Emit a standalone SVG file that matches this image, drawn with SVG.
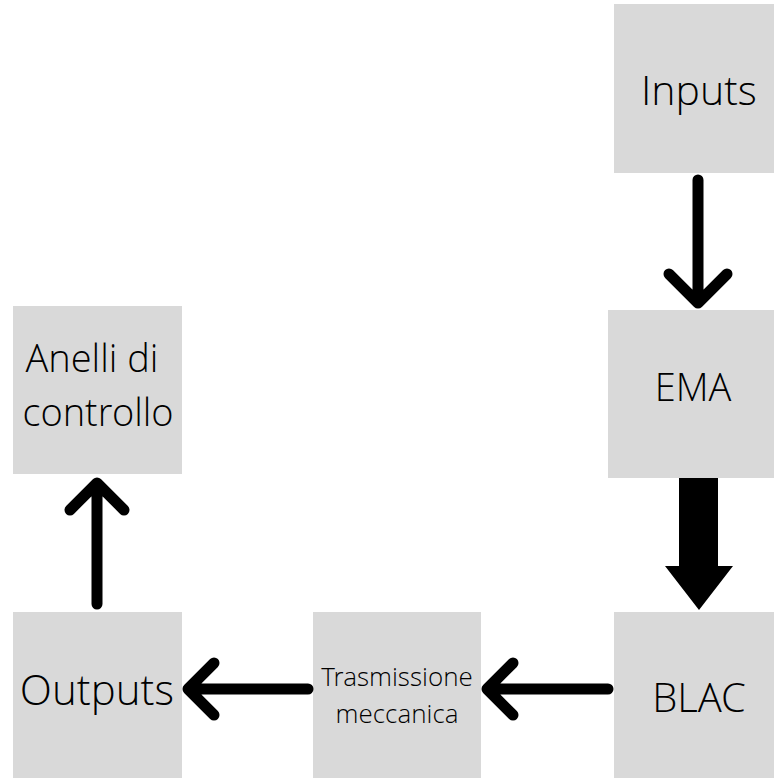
<svg xmlns="http://www.w3.org/2000/svg" width="774" height="778" viewBox="0 0 774 778">
<style>
.box{fill:#d9d9d9}
.t{font-family:"Open Sans Light","Open Sans","Liberation Sans",sans-serif;font-weight:300;fill:#000;text-anchor:middle}
.ln{stroke:#000;stroke-width:11;stroke-linecap:round;stroke-linejoin:round;fill:none}
</style>
<rect width="774" height="778" fill="#fff"/>
<g id="inputs"><rect class="box" x="614" y="4" width="170" height="169"/><text class="t" x="699" y="105" font-size="41">Inputs</text></g>
<g id="ema"><rect class="box" x="608" y="310" width="176" height="168"/><text class="t" x="693" y="401" font-size="38">EMA</text></g>
<g id="blac"><rect class="box" x="614" y="612" width="170" height="170"/><text class="t" x="699" y="712" font-size="40">BLAC</text></g>
<g id="trasmissione"><rect class="box" x="313" y="612" width="168" height="170"/><text class="t" x="397" y="686" font-size="26">Trasmissione</text><text class="t" x="397" y="723" font-size="26">meccanica</text></g>
<g id="outputs"><rect class="box" x="13" y="612" width="169" height="170"/><text class="t" x="97" y="705" font-size="42">Outputs</text></g>
<g id="anelli"><rect class="box" x="13" y="306" width="169" height="168"/><text class="t" x="92" y="372" font-size="38">Anelli di</text><text class="t" x="98" y="426" font-size="38">controllo</text></g>
<g id="connectors">
<path class="ln" d="M698 180V300M669 274L698 303L727 274"/>
<path d="M679 478H718V566H733L699 610L665 566H679Z" fill="#000"/>
<path class="ln" d="M608 689H487M513 663L487 689L513 715"/>
<path class="ln" d="M308 689H188M214 663L188 689L214 715"/>
<path class="ln" d="M97 604V485M70 510L97 483L124 510"/>
</g>
</svg>
